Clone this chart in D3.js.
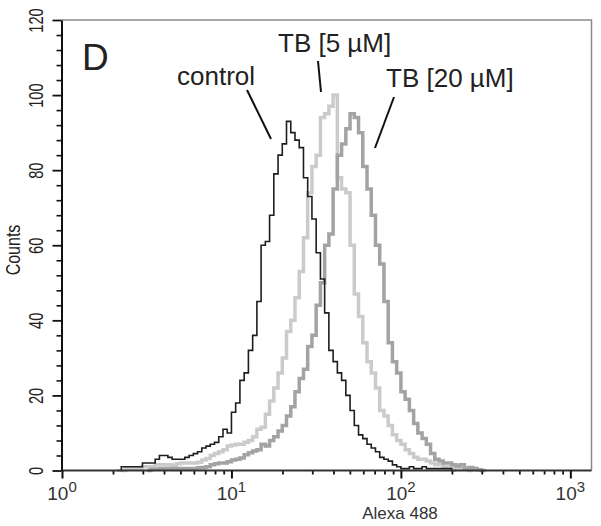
<!DOCTYPE html>
<html>
<head>
<meta charset="utf-8">
<title>Alexa 488 histogram</title>
<script src="https://cdn.jsdelivr.net/npm/d3@7"></script>
<style>
    body { margin: 0; background: #fff; }
    svg { display: block; font-family: "Liberation Sans", Arial, sans-serif; }
</style>
</head>
<body>
<svg id="chart" width="601" height="526"></svg>
<script>
/*globals d3*/

// lower edges of the histogram channels (Alexa 488 intensity), last value closes the last bin
var binEdges = [
    1.995, 2.113, 2.239, 2.371, 2.512, 2.661, 2.818, 2.985, 3.162, 3.350,
    3.548, 3.758, 3.981, 4.217, 4.467, 4.732, 5.012, 5.309, 5.623, 5.957,
    6.310, 6.683, 7.079, 7.499, 7.943, 8.414, 8.913, 9.441, 10.00, 10.59,
    11.22, 11.89, 12.59, 13.34, 14.13, 14.96, 15.85, 16.79, 17.78, 18.84,
    19.95, 21.13, 22.39, 23.71, 25.12, 26.61, 28.18, 29.85, 31.62, 33.50,
    35.48, 37.58, 39.81, 42.17, 44.67, 47.32, 50.12, 53.09, 56.23, 59.57,
    63.10, 66.83, 70.79, 74.99, 79.43, 84.14, 89.13, 94.41, 100.0, 105.9,
    112.2, 118.9, 125.9, 133.4, 141.3, 149.6, 158.5, 167.9, 177.8, 188.4,
    199.5, 211.3, 223.9, 237.1, 251.2, 266.1, 281.8, 298.5, 316.2, 335.0,
    354.8, 375.8, 398.1
];

var controlCounts = [
    0, 0, 1, 1, 1, 1, 1, 2, 2, 2,
    3, 4, 4, 3.5, 3, 3, 3, 3.5, 4, 4.5,
    5, 6, 6.5, 7, 7.5, 9, 11, 10, 15.5, 18,
    24, 26, 32, 36, 45, 60, 61, 68, 79, 84,
    87, 93, 90, 88, 86, 78, 73, 67, 58, 51,
    42, 32, 29, 26, 24, 20, 16, 12, 9.5, 8.5,
    7, 6, 5, 3.5, 3, 2.5, 1.5, 1, 0.5, 0.5,
    1, 0.5, 0.5, 1, 0.5, 0.5, 0.5, 0.5, 0.5, 0.5,
    0, 0, 0, 0, 0, 0, 0, 0, 0, 0,
    0, 0
];

var tb5Counts = [
    0, 0, 0, 0.5, 0.5, 0.5, 0.5, 1, 1, 1,
    1.5, 1.5, 1.5, 1.5, 1.2, 1.8, 2, 2, 2, 2,
    2.2, 2.8, 3.2, 4, 4.5, 5, 5.5, 6.5, 6.8, 7,
    7, 7.5, 8, 9, 11, 11.5, 15, 18.5, 22, 26,
    30, 37, 40, 46, 53, 62, 74, 81, 84, 94,
    95, 97, 100, 78, 75, 74, 60, 47, 41, 34,
    29, 26, 22, 16, 14.5, 12, 9.5, 8, 7, 5.5,
    4.5, 3.5, 3, 3, 2.5, 2, 1.5, 1.5, 1, 1,
    0.8, 0.5, 0.5, 0.3, 0, 0, 0, 0, 0, 0,
    0, 0
];

var tb20Counts = [
    0, 0, 0, 0, 0, 0, 0, 0, 0, 0.3,
    0.3, 0.5, 0.5, 0.5, 0.5, 0.5, 0.5, 0.5, 0.5, 0.5,
    0.7, 0.8, 1, 1.5, 1.8, 2, 2, 2.3, 2.8, 3,
    3.3, 4.2, 4.7, 5.2, 5.5, 7, 6.5, 8, 9, 10.5,
    12, 14.5, 17, 21, 24.5, 27, 33, 36, 44, 50,
    60, 63, 75, 84, 87, 91, 95, 94, 90, 81,
    75, 68, 60, 55, 45, 34, 29, 26, 21, 19,
    16, 12.5, 10, 8.5, 7, 4.5, 3, 2.5, 2, 2,
    1.5, 1.2, 1.5, 0.5, 0.8, 0.5, 0.2, 0, 0, 0,
    0, 0
];

var yMajorTicks = [0, 20, 40, 60, 80, 100, 120];
var yMinorTicks = [4, 8, 12, 16, 24, 28, 32, 36, 44, 48, 52, 56, 64, 68, 72, 76, 84, 88, 92, 96, 104, 108, 112, 116];
var xMajorTicks = [1, 10, 100, 1000];
var xMinorTicks = [2, 3, 4, 5, 6, 7, 8, 9, 20, 30, 40, 50, 60, 70, 80, 90, 200, 300, 400, 500, 600, 700, 800, 900];
var xDomain = [1, 1333];
var yDomain = [0, 120];

(function () {
    "use strict";

    var svg = d3.select("#chart"),
        left = 61.5,
        right = 591.5,
        top = 20,
        bottom = 470.5,
        x,
        y,
        series,
        line;

    x = d3.scaleLog().domain(xDomain).range([62, right]);
    y = d3.scaleLinear().domain(yDomain).range([bottom, top]);

    // frame: top and right in grey
    svg.append("path")
        .attr("d", "M" + left + "," + top + "H" + right + "V" + bottom)
        .attr("fill", "none")
        .attr("stroke", "#8a8a8a")
        .attr("stroke-width", 1.5);

    line = d3.line()
        .x(function (d) { return x(d[0]); })
        .y(function (d) { return y(d[1]); })
        .curve(d3.curveStepAfter);

    function histPoints(counts) {
        var first = 0,
            last = counts.length - 1,
            pts = [],
            i;
        while (first < counts.length && counts[first] === 0) {
            first += 1;
        }
        while (last > 0 && counts[last] === 0) {
            last -= 1;
        }
        first = Math.max(0, first - 1);
        last = Math.min(counts.length - 1, last + 1);
        for (i = first; i <= last; i += 1) {
            pts.push([binEdges[i], counts[i]]);
        }
        pts.push([binEdges[last + 1], counts[last]]);
        return pts;
    }

    series = [
        {name: "TB [5 µM]", counts: tb5Counts, color: "#cbcbcb", width: 3.5},
        {name: "TB [20 µM]", counts: tb20Counts, color: "#a3a3a3", width: 3.5},
        {name: "control", counts: controlCounts, color: "#1e1e1e", width: 1.6}
    ];

    svg.append("g").selectAll("path.hist")
        .data(series)
        .enter().append("path")
        .attr("class", "hist")
        .attr("fill", "none")
        .attr("stroke", function (d) { return d.color; })
        .attr("stroke-width", function (d) { return d.width; })
        .attr("d", function (d) { return line(histPoints(d.counts)); });

    // y axis: minor then major ticks
    svg.append("g")
        .attr("transform", "translate(" + left + ",0)")
        .call(d3.axisLeft(y).tickValues(yMinorTicks).tickSize(5).tickSizeOuter(0).tickFormat(""))
        .call(function (g) {
            g.select(".domain").remove();
            g.selectAll("line").attr("stroke", "#111").attr("stroke-width", 1.6);
        });

    svg.append("g")
        .attr("class", "yaxis")
        .attr("transform", "translate(" + left + ",0)")
        .call(d3.axisLeft(y).tickValues(yMajorTicks).tickSize(9).tickSizeOuter(0))
        .call(function (g) {
            g.select(".domain").attr("stroke", "#111").attr("stroke-width", 2);
            g.selectAll("line").attr("stroke", "#111").attr("stroke-width", 1.8);
            g.selectAll("text")
                .attr("x", null)
                .attr("dy", null)
                .attr("fill", "#222")
                .attr("font-size", 21)
                .attr("font-family", "\"Liberation Sans\", Arial, sans-serif")
                .attr("text-anchor", "middle")
                .attr("transform", "translate(-18.5,0) rotate(-90) scale(0.7,1)");
        });

    // x axis
    svg.append("g")
        .attr("transform", "translate(0," + bottom + ")")
        .call(d3.axisBottom(x).tickValues(xMinorTicks).tickSize(4).tickSizeOuter(0).tickFormat(""))
        .call(function (g) {
            g.select(".domain").remove();
            g.selectAll("line").attr("stroke", "#111").attr("stroke-width", 1.8);
        });

    svg.append("g")
        .attr("transform", "translate(0," + bottom + ")")
        .call(d3.axisBottom(x).tickValues(xMajorTicks).tickSize(8).tickSizeOuter(0).tickFormat(""))
        .call(function (g) {
            g.select(".domain").attr("d", "M" + left + ",0H" + right)
                .attr("stroke", "#333").attr("stroke-width", 1.8);
            g.selectAll("line").attr("stroke", "#111").attr("stroke-width", 2);
        });

    svg.append("g").selectAll("text.xlab")
        .data(xMajorTicks)
        .enter().append("text")
        .attr("class", "xlab")
        .attr("x", function (d) { return x(d); })
        .attr("y", 500)
        .attr("text-anchor", "middle")
        .attr("fill", "#333")
        .attr("font-size", 19)
        .each(function (d) {
            var t = d3.select(this);
            t.append("tspan").text("10");
            t.append("tspan")
                .attr("dy", -8)
                .attr("font-size", 15)
                .text(String(Math.round(Math.log10(d))));
        });

    svg.append("text")
        .attr("x", 400)
        .attr("y", 519)
        .attr("text-anchor", "middle")
        .attr("fill", "#333")
        .attr("font-size", 17)
        .text("Alexa 488");

    svg.append("text")
        .attr("text-anchor", "middle")
        .attr("fill", "#222")
        .attr("font-size", 20)
        .attr("transform", "translate(20,250) rotate(-90) scale(0.8,1)")
        .text("Counts");

    // panel letter and annotations
    svg.append("text")
        .attr("x", 82)
        .attr("y", 70)
        .attr("fill", "#222")
        .attr("font-size", 37)
        .text("D");

    [
        {text: "control", tx: 177, ty: 85, line: [247, 90, 271, 139]},
        {text: "TB [5 µM]", tx: 278, ty: 52, line: [318, 61, 321, 92]},
        {text: "TB [20 µM]", tx: 386, ty: 87, line: [394, 97, 375, 148]}
    ].forEach(function (a) {
        svg.append("text")
            .attr("x", a.tx)
            .attr("y", a.ty)
            .attr("fill", "#222")
            .attr("font-size", 26)
            .text(a.text);
        svg.append("line")
            .attr("x1", a.line[0])
            .attr("y1", a.line[1])
            .attr("x2", a.line[2])
            .attr("y2", a.line[3])
            .attr("stroke", "#111")
            .attr("stroke-width", 2);
    });
}());
</script>
</body>
</html>
